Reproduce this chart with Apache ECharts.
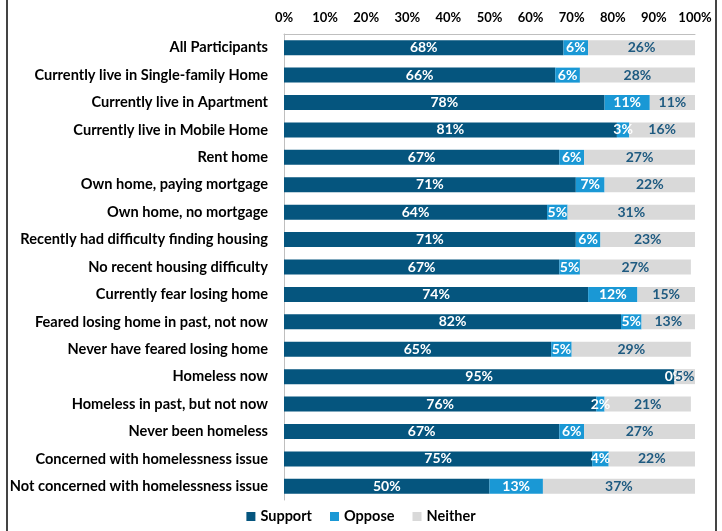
<!DOCTYPE html>
<html><head><meta charset="utf-8">
<script src="https://cdn.jsdelivr.net/npm/echarts@6/dist/echarts.min.js"></script>
<style>html,body{margin:0;padding:0;background:#fff}#c{width:722px;height:531px}</style>
</head><body><div id="c"></div>
<script>
const categories = ["All Participants","Currently live in Single-family Home","Currently live in Apartment","Currently live in Mobile Home","Rent home","Own home, paying mortgage","Own home, no mortgage","Recently had difficulty finding housing","No recent housing difficulty","Currently fear losing home","Feared losing home in past, not now","Never have feared losing home","Homeless now","Homeless in past, but not now","Never been homeless","Concerned with homelessness issue","Not concerned with homelessness issue"];
const support = [68,66,78,81,67,71,64,71,67,74,82,65,95,76,67,75,50];
const oppose  = [6,6,11,3,6,7,5,6,5,12,5,5,0,2,6,4,13];
const neither = [26,28,11,16,27,22,31,23,27,15,13,29,5,21,27,22,37];
const xTicks = [0,10,20,30,40,50,60,70,80,90,100];

const FONT = 'Lato, sans-serif';
const chart = echarts.init(document.getElementById('c'), null, {renderer:'canvas'});
function ser(name, data, color, labelColor){
  return {name, type:'bar', stack:'s', data, barWidth:15, clip:true,
    itemStyle:{color},
    label:{show:true, position:'inside', formatter:'{c}%', color:labelColor,
      fontFamily:FONT, fontWeight:'bold', fontSize:14}};
}
chart.setOption({
  animation:false,
  textStyle:{fontFamily:FONT},
  grid:{left:284, right:27, top:34, bottom:31, containLabel:false, outerBoundsMode:'none'},
  xAxis:{type:'value', position:'top', min:xTicks[0], max:xTicks[xTicks.length-1], interval:10,
    axisLine:{show:true, lineStyle:{color:'#BFBFBF', width:1}},
    axisTick:{show:false}, splitLine:{show:false},
    axisLabel:{formatter:'{value}%', color:'#000', fontFamily:FONT, fontWeight:'bold', fontSize:13, margin:10}},
  yAxis:{type:'category', data:categories, inverse:true,
    axisLine:{show:true, lineStyle:{color:'#BFBFBF', width:1}},
    axisTick:{show:false},
    axisLabel:{color:'#000', fontFamily:FONT, fontWeight:'bold', fontSize:14.6, margin:16}},
  legend:{bottom:2, left:'center', itemWidth:9, itemHeight:9, itemGap:18, icon:'rect',
    textStyle:{fontFamily:FONT, fontWeight:'bold', fontSize:14.5, color:'#000'},
    data:['Support','Oppose','Neither']},
  series:[
    ser('Support', support, '#05557E', '#fff'),
    ser('Oppose', oppose, '#1A98D5', '#fff'),
    ser('Neither', neither, '#D9D9D9', '#1E5A80')
  ],
  graphic:[
    {type:'line', shape:{x1:7,y1:0,x2:7,y2:531}, style:{stroke:'#444', lineWidth:2}},
    {type:'line', shape:{x1:716,y1:0,x2:716,y2:531}, style:{stroke:'#444', lineWidth:2}}
  ]
});
</script></body></html>
